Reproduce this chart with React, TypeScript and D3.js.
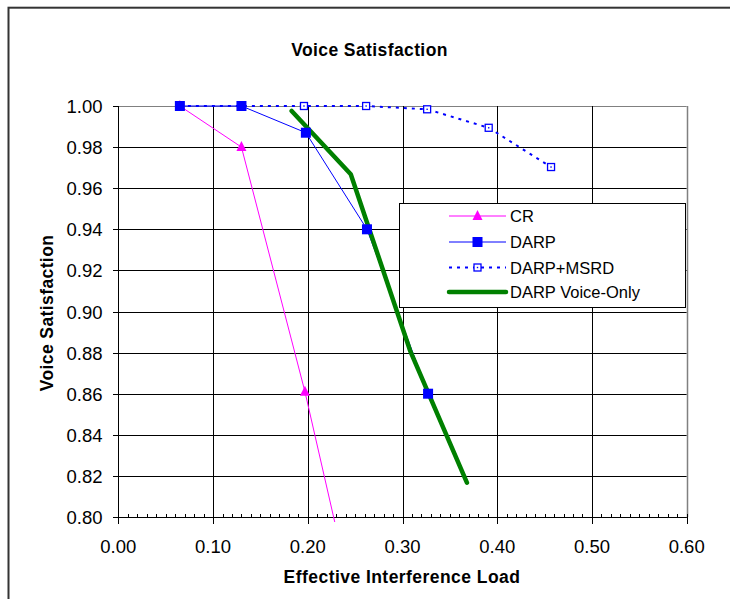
import React from "react";
import * as d3 from "d3";

const xTicks = [0, 0.1, 0.2, 0.3, 0.4, 0.5, 0.6];
const yTicks = [0.8, 0.82, 0.84, 0.86, 0.88, 0.9, 0.92, 0.94, 0.96, 0.98, 1.0];

const crX = [0.065, 0.13, 0.197, 0.262];
const crY = [1.0, 0.98, 0.861, 0.73];

const darpX = [0.065, 0.13, 0.198, 0.2625, 0.327];
const darpY = [1.0, 1.0, 0.987, 0.94, 0.86];

const msrdX = [0.065, 0.13, 0.196, 0.2616, 0.326, 0.391, 0.4568];
const msrdY = [1.0, 1.0, 1.0, 1.0, 0.9984, 0.9894, 0.9703];

const voiceX = [0.183, 0.2454, 0.308, 0.368];
const voiceY = [0.9976, 0.9668, 0.881, 0.8167];

const seriesNames = ["CR", "DARP", "DARP+MSRD", "DARP Voice-Only"];

const FONT = "'Liberation Sans', Arial, Helvetica, sans-serif";

export default function App() {
  const W = 730;
  const H = 599;
  const x = d3.scaleLinear().domain([0, 0.6]).range([118.3, 686.7]);
  const y = d3.scaleLinear().domain([0.8, 1.0]).range([517, 106]);
  const minorTicks = d3.range(0, 61).map((i) => i / 100);

  const line = d3
    .line<[number, number]>()
    .x((d) => x(d[0]))
    .y((d) => y(d[1]));

  const zip = (a: number[], b: number[]) => a.map((v, i) => [v, b[i]] as [number, number]);
  const cr = zip(crX, crY);
  const darp = zip(darpX, darpY);
  const msrd = zip(msrdX, msrdY);
  const voice = zip(voiceX, voiceY);

  const tri = (cx: number, cy: number, s: number) =>
    `M${cx},${cy - s * 0.6} L${cx + s / 2},${cy + s * 0.4} L${cx - s / 2},${cy + s * 0.4} Z`;

  const blue = "#0000FF";
  const magenta = "#FF00FF";
  const green = "#008000";

  const legendRows = [216, 242, 267.5, 292];
  const lx0 = 449;
  const lx1 = 506;
  const lmx = (lx0 + lx1) / 2;

  return (
    <svg
      width={W}
      height={H}
      style={{ position: "absolute", left: 0, top: 0, background: "#fff" }}
      fontFamily={FONT}
    >
      <defs>
        <clipPath id="plotclip">
          <rect x={x(0)} y={y(1.0) - 10} width={x(0.6) - x(0)} height={y(0.8) - y(1.0) + 15} />
        </clipPath>
      </defs>
      {/* outer border */}
      <rect x={8.5} y={7.7} width={900} height={900} fill="none" stroke="#333" strokeWidth={2} />

      {/* Title */}
      <text x={369.5} y={56} textAnchor="middle" fontWeight="bold" fontSize={17.5} letterSpacing={0.4}>
        Voice Satisfaction
      </text>

      {/* gridlines horizontal */}
      {yTicks.map((t) => (
        <line
          key={"gy" + t}
          x1={x(0)}
          x2={x(0.6)}
          y1={Math.round(y(t)) + 0.5}
          y2={Math.round(y(t)) + 0.5}
          stroke={t === 1.0 ? "#808080" : "#000"}
          strokeWidth={1}
        />
      ))}
      {/* gridlines vertical */}
      {xTicks.slice(1).map((t) => (
        <line
          key={"gx" + t}
          x1={Math.round(x(t)) + 0.5}
          x2={Math.round(x(t)) + 0.5}
          y1={y(1.0)}
          y2={y(0.8)}
          stroke={t === 0.6 ? "#808080" : "#000"}
          strokeWidth={t === 0.6 ? 1.5 : 1}
        />
      ))}

      {/* axes */}
      <line x1={118.5} x2={118.5} y1={y(1.0)} y2={y(0.8)} stroke="#000" />
      <line x1={x(0)} x2={x(0.6)} y1={517.5} y2={517.5} stroke="#000" />
      {yTicks.map((t) => (
        <line key={"yt" + t} x1={113} x2={118.5} y1={Math.round(y(t)) + 0.5} y2={Math.round(y(t)) + 0.5} stroke="#000" />
      ))}
      {xTicks.map((t) => (
        <line key={"xt" + t} x1={Math.round(x(t)) + 0.5} x2={Math.round(x(t)) + 0.5} y1={517} y2={524} stroke="#000" />
      ))}
      {minorTicks.map((t) => (
        <line key={"mt" + t} x1={Math.round(x(t)) + 0.5} x2={Math.round(x(t)) + 0.5} y1={514} y2={517.5} stroke="#000" />
      ))}

      {/* tick labels */}
      {yTicks.map((t) => (
        <text key={"yl" + t} x={102.5} y={y(t) + 7} textAnchor="end" fontSize={18.5}>
          {d3.format(".2f")(t)}
        </text>
      ))}
      {xTicks.map((t) => (
        <text key={"xl" + t} x={x(t)} y={552.5} textAnchor="middle" fontSize={18.5}>
          {d3.format(".2f")(t)}
        </text>
      ))}

      {/* axis titles */}
      <text x={402} y={583} textAnchor="middle" fontWeight="bold" fontSize={17.5} letterSpacing={0.45}>
        Effective Interference Load
      </text>
      <text
        transform={`translate(53,313) rotate(-90)`}
        textAnchor="middle"
        fontWeight="bold"
        fontSize={17.5}
        letterSpacing={0.4}
      >
        Voice Satisfaction
      </text>

      {/* series */}
      <g clipPath="url(#plotclip)">
        <path d={line(cr) || ""} fill="none" stroke={magenta} strokeWidth={1} />
        {cr.map((d, i) =>
          d[1] >= 0.8 ? <path key={"crm" + i} d={tri(x(d[0]), y(d[1]), 10)} fill={magenta} /> : null
        )}
        <path d={line(darp) || ""} fill="none" stroke={blue} strokeWidth={1} />
        <path d={line(msrd) || ""} fill="none" stroke={blue} strokeWidth={2} strokeDasharray="3,5" />
        {msrd.map((d, i) => (
          <g key={"mm" + i}>
            <rect x={x(d[0]) - 3.5} y={y(d[1]) - 3.5} width={7} height={7} fill="#fff" stroke={blue} strokeWidth={1.3} />
            <rect x={x(d[0]) - 0.7} y={y(d[1]) - 0.7} width={1.4} height={1.4} fill={blue} />
          </g>
        ))}
        <path d={line(voice) || ""} fill="none" stroke={green} strokeWidth={4.5} strokeLinecap="round" strokeLinejoin="round" />
        {darp.map((d, i) => (
          <rect key={"dm" + i} x={x(d[0]) - 5} y={y(d[1]) - 5} width={10} height={10} fill={blue} />
        ))}
      </g>

      {/* legend */}
      <rect x={399.5} y={203.5} width={286} height={104} fill="#fff" stroke="#000" strokeWidth={1} />
      <g>
        <line x1={lx0} x2={lx1} y1={legendRows[0]} y2={legendRows[0]} stroke={magenta} strokeWidth={1} />
        <path d={tri(lmx, legendRows[0], 10)} fill={magenta} />
        <line x1={lx0} x2={lx1} y1={legendRows[1]} y2={legendRows[1]} stroke={blue} strokeWidth={1} />
        <rect x={lmx - 5} y={legendRows[1] - 5} width={10} height={10} fill={blue} />
        <line x1={lx0} x2={lx1} y1={legendRows[2]} y2={legendRows[2]} stroke={blue} strokeWidth={2} strokeDasharray="3,5" />
        <rect x={lmx - 3.5} y={legendRows[2] - 3.5} width={7} height={7} fill="#fff" stroke={blue} strokeWidth={1.3} />
        <rect x={lmx - 0.7} y={legendRows[2] - 0.7} width={1.4} height={1.4} fill={blue} />
        <line x1={lx0} x2={lx1} y1={legendRows[3]} y2={legendRows[3]} stroke={green} strokeWidth={4.5} strokeLinecap="round" />
        {seriesNames.map((n, i) => (
          <text key={n} x={510} y={legendRows[i] + 6} fontSize={16.5}>
            {n}
          </text>
        ))}
      </g>
    </svg>
  );
}
